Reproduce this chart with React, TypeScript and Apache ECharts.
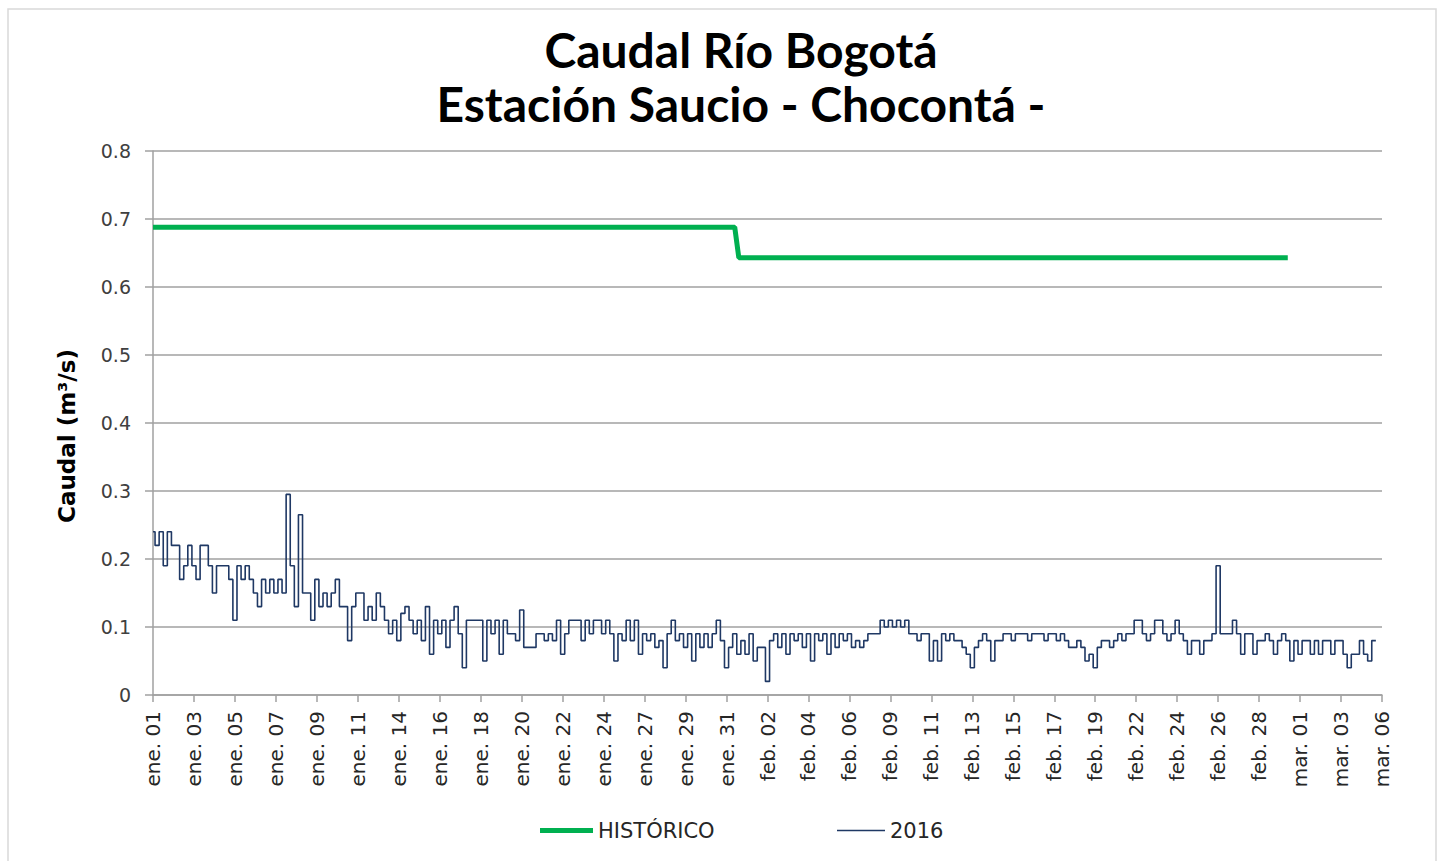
import React, { useEffect, useRef } from "react";
import * as echarts from "echarts";

// Tick labels shown every POINTS_PER_TICK readings
const tickLabels = [
  "ene. 01", "ene. 03", "ene. 05", "ene. 07", "ene. 09", "ene. 11", "ene. 14", "ene. 16",
  "ene. 18", "ene. 20", "ene. 22", "ene. 24", "ene. 27", "ene. 29", "ene. 31", "feb. 02",
  "feb. 04", "feb. 06", "feb. 09", "feb. 11", "feb. 13", "feb. 15", "feb. 17", "feb. 19",
  "feb. 22", "feb. 24", "feb. 26", "feb. 28", "mar. 01", "mar. 03", "mar. 06",
];
const POINTS_PER_TICK = 10;

// 2016 readings (m³/s), one row per tick interval
const flow2016: (number | null)[] = [
  0.24, 0.22, 0.24, 0.19, 0.24, 0.22, 0.22, 0.17, 0.19, 0.22,
  0.19, 0.17, 0.22, 0.22, 0.19, 0.15, 0.19, 0.19, 0.19, 0.17,
  0.11, 0.19, 0.17, 0.19, 0.17, 0.15, 0.13, 0.17, 0.15, 0.17,
  0.15, 0.17, 0.15, 0.295, 0.19, 0.13, 0.265, 0.15, 0.15, 0.11,
  0.17, 0.13, 0.15, 0.13, 0.15, 0.17, 0.13, 0.13, 0.08, 0.13,
  0.15, 0.15, 0.11, 0.13, 0.11, 0.15, 0.13, 0.11, 0.09, 0.11,
  0.08, 0.12, 0.13, 0.11, 0.09, 0.11, 0.08, 0.13, 0.06, 0.11,
  0.09, 0.11, 0.07, 0.11, 0.13, 0.09, 0.04, 0.11, 0.11, 0.11,
  0.11, 0.05, 0.11, 0.09, 0.11, 0.06, 0.11, 0.09, 0.09, 0.08,
  0.125, 0.07, 0.07, 0.07, 0.09, 0.09, 0.08, 0.09, 0.08, 0.11,
  0.06, 0.09, 0.11, 0.11, 0.11, 0.08, 0.11, 0.09, 0.11, 0.11,
  0.09, 0.11, 0.09, 0.05, 0.09, 0.08, 0.11, 0.08, 0.11, 0.06,
  0.09, 0.08, 0.09, 0.07, 0.08, 0.04, 0.09, 0.11, 0.08, 0.09,
  0.07, 0.09, 0.05, 0.09, 0.07, 0.09, 0.07, 0.09, 0.11, 0.08,
  0.04, 0.07, 0.09, 0.06, 0.08, 0.06, 0.09, 0.05, 0.07, 0.07,
  0.02, 0.08, 0.09, 0.07, 0.09, 0.06, 0.09, 0.08, 0.09, 0.07,
  0.09, 0.05, 0.09, 0.08, 0.09, 0.06, 0.09, 0.07, 0.09, 0.08,
  0.09, 0.07, 0.08, 0.07, 0.08, 0.09, 0.09, 0.09, 0.11, 0.10,
  0.11, 0.10, 0.11, 0.10, 0.11, 0.09, 0.09, 0.08, 0.09, 0.09,
  0.05, 0.08, 0.05, 0.09, 0.08, 0.09, 0.08, 0.08, 0.07, 0.06,
  0.04, 0.07, 0.08, 0.09, 0.08, 0.05, 0.08, 0.08, 0.09, 0.09,
  0.08, 0.09, 0.09, 0.09, 0.08, 0.09, 0.09, 0.09, 0.08, 0.09,
  0.09, 0.08, 0.09, 0.08, 0.07, 0.07, 0.08, 0.07, 0.05, 0.06,
  0.04, 0.07, 0.08, 0.08, 0.07, 0.08, 0.09, 0.08, 0.09, 0.09,
  0.11, 0.11, 0.09, 0.08, 0.09, 0.11, 0.11, 0.09, 0.08, 0.09,
  0.11, 0.09, 0.08, 0.06, 0.08, 0.08, 0.06, 0.08, 0.08, 0.09,
  0.19, 0.09, 0.09, 0.09, 0.11, 0.09, 0.06, 0.09, 0.09, 0.06,
  0.08, 0.08, 0.09, 0.08, 0.06, 0.08, 0.09, 0.08, 0.05, 0.08,
  0.06, 0.08, 0.08, 0.06, 0.08, 0.06, 0.08, 0.08, 0.06, 0.08,
  0.08, 0.06, 0.04, 0.06, 0.06, 0.08, 0.06, 0.05, 0.08, null,
  null,
];

// Historical mean (m³/s): [reading index, value]
const historicoPoints: [number, number][] = [
  [0, 0.688],
  [142, 0.688],
  [143, 0.643],
  [277, 0.643],
];

const yTicks = { min: 0, max: 0.8, interval: 0.1 };

const categories = Array.from(
  { length: (tickLabels.length - 1) * POINTS_PER_TICK + 1 },
  (_, i) => (i % POINTS_PER_TICK === 0 ? tickLabels[i / POINTS_PER_TICK] : "")
);

export default function App() {
  const ref = useRef<HTMLDivElement>(null);
  useEffect(() => {
    document.body.style.margin = "0";
    if (!ref.current) return;
    const chart = echarts.init(ref.current, undefined, { renderer: "svg" });
    const legendText = { fontFamily: "DejaVu Sans", fontSize: 21, color: "#262626" };
    chart.setOption({
      animation: false,
      backgroundColor: "#ffffff",
      title: {
        text: "Caudal Río Bogotá\nEstación Saucio - Chocontá -",
        left: 736,
        textAlign: "center",
        top: 17,
        textStyle: {
          fontFamily: "Lato",
          fontWeight: "bold",
          fontSize: 48,
          lineHeight: 54,
          color: "#000000",
        },
      },
      graphic: [
        {
          type: "rect",
          shape: { x: 8, y: 9, width: 1428, height: 860 },
          style: { fill: "none", stroke: "#d9d9d9", lineWidth: 1.5 },
          silent: true,
        },
        {
          type: "text",
          x: 67,
          y: 436,
          rotation: Math.PI / 2,
          style: {
            text: "Caudal (m³/s)",
            fontFamily: "DejaVu Sans",
            fontWeight: "bold",
            fontSize: 23,
            fill: "#000000",
            align: "center",
            verticalAlign: "middle",
          },
        },
      ],
      legend: [
        {
          data: ["HISTÓRICO"],
          left: 535,
          top: 815,
          icon: "rect",
          itemWidth: 53,
          itemHeight: 5,
          textStyle: legendText,
        },
        {
          data: ["2016"],
          left: 832,
          top: 815,
          icon: "rect",
          itemWidth: 48,
          itemHeight: 1.6,
          textStyle: legendText,
        },
      ],
      grid: { left: 153, right: 61, top: 151, bottom: 166, containLabel: false },
      xAxis: {
        type: "category",
        data: categories,
        boundaryGap: false,
        axisLine: { show: true, lineStyle: { color: "#a0a0a0", width: 1.5 } },
        axisTick: { show: true, interval: POINTS_PER_TICK - 1, length: 7, lineStyle: { color: "#a0a0a0", width: 1.5 } },
        axisLabel: {
          interval: POINTS_PER_TICK - 1,
          rotate: 90,
          margin: 16,
          fontFamily: "DejaVu Sans",
          fontSize: 20,
          color: "#262626",
        },
        splitLine: { show: false },
      },
      yAxis: {
        type: "value",
        min: yTicks.min,
        max: yTicks.max,
        interval: yTicks.interval,
        axisLine: { show: true, lineStyle: { color: "#a0a0a0", width: 1.5 } },
        axisTick: { show: true, length: 8, lineStyle: { color: "#a0a0a0", width: 1.5 } },
        axisLabel: {
          margin: 22,
          fontFamily: "DejaVu Sans",
          fontSize: 19,
          color: "#404040",
          formatter: (v: number) => (v === 0 ? "0" : v.toFixed(1)),
        },
        splitLine: { show: true, lineStyle: { color: "#a0a0a0", width: 1.5 } },
      },
      series: [
        {
          name: "HISTÓRICO",
          type: "line",
          data: historicoPoints,
          symbol: "none",
          lineStyle: { color: "#00b050", width: 5 },
          itemStyle: { color: "#00b050" },
          z: 3,
        },
        {
          name: "2016",
          type: "line",
          data: flow2016,
          step: "middle",
          symbol: "none",
          connectNulls: false,
          lineStyle: { color: "#1f3864", width: 1.6 },
          itemStyle: { color: "#1f3864" },
          z: 2,
        },
      ],
    });
    return () => chart.dispose();
  }, []);
  return <div ref={ref} style={{ width: 1443, height: 861 }} />;
}
